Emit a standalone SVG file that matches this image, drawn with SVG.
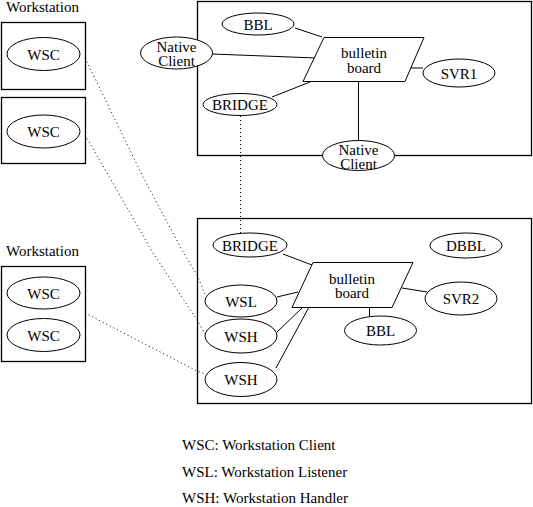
<svg xmlns="http://www.w3.org/2000/svg" width="533" height="507" viewBox="0 0 533 507">
<rect width="533" height="507" fill="#fff"/>
<g id="frames" fill="none" stroke="#000" stroke-width="1.3">
<rect x="1.5" y="22.5" width="84" height="67"/>
<rect x="1.5" y="97.5" width="84" height="66"/>
<rect x="1.5" y="266.5" width="84" height="95"/>
<rect x="197.5" y="1.5" width="334" height="154"/>
<rect x="197.5" y="218.5" width="334" height="185"/>
</g>
<text x="6" y="12" font-family="Liberation Serif" font-size="15">Workstation</text>
<text x="6" y="256" font-family="Liberation Serif" font-size="15">Workstation</text>
<g id="connectors" fill="none" stroke="#000" stroke-width="1">
<line x1="295" y1="28" x2="322" y2="37"/>
<line x1="212" y1="54" x2="316" y2="58"/>
<line x1="272" y1="97" x2="310" y2="82"/>
<line x1="410" y1="68" x2="423" y2="68"/>
<line x1="358.5" y1="81" x2="358.5" y2="140"/>
<line x1="283" y1="254" x2="312" y2="265"/>
<line x1="277" y1="297" x2="298" y2="292"/>
<line x1="277" y1="332" x2="303" y2="307"/>
<line x1="276" y1="368" x2="309" y2="307"/>
<line x1="402" y1="288" x2="427" y2="292"/>
<line x1="369.5" y1="307" x2="369.5" y2="316"/>
<g stroke-dasharray="1,3">
<line x1="240.5" y1="116" x2="240.5" y2="233"/>
<polyline points="85,58 143,177 182,250 197,275 205,294"/>
<polyline points="85,135 110,178 153,253 197,320 205,334"/>
<polyline points="85,313 195,370 205,374"/>
</g>
</g>
<g fill="#fff" stroke="#000" stroke-width="1">
<ellipse id="wsc1" cx="43.5" cy="54" rx="36.5" ry="16.5"/>
<ellipse id="wsc2" cx="43.5" cy="131.5" rx="36.5" ry="16.5"/>
<ellipse id="wsc3" cx="43.5" cy="293" rx="36.5" ry="16"/>
<ellipse id="wsc4" cx="43.5" cy="335" rx="36.5" ry="16.5"/>
<ellipse id="bbl1" cx="258" cy="24" rx="36" ry="11"/>
<ellipse id="native1" cx="176.5" cy="53" rx="36" ry="16"/>
<polygon id="bb1" points="324,37.5 424,37.5 405,81.5 303,81.5"/>
<ellipse id="svr1" cx="459" cy="73" rx="36" ry="14"/>
<ellipse id="bridge1" cx="240" cy="104.5" rx="37" ry="11"/>
<ellipse id="native2" cx="358.5" cy="155.5" rx="36" ry="15"/>
<ellipse id="bridge2" cx="250" cy="245" rx="37" ry="12"/>
<ellipse id="dbbl" cx="466" cy="245.5" rx="36" ry="12.5"/>
<polygon id="bb2" points="313,262.5 413,262.5 392,307.5 292,307.5"/>
<ellipse id="wsl" cx="241" cy="301" rx="36" ry="16"/>
<ellipse id="svr2" cx="461" cy="298.5" rx="36" ry="16.5"/>
<ellipse id="bbl2" cx="380.5" cy="330.5" rx="36" ry="14.5"/>
<ellipse id="wsh1" cx="241" cy="336" rx="36" ry="17"/>
<ellipse id="wsh2" cx="241" cy="379.5" rx="36" ry="17"/>
</g>
<text x="43.5" y="60" text-anchor="middle" font-family="Liberation Serif" font-size="15">WSC</text>
<text x="43.5" y="137" text-anchor="middle" font-family="Liberation Serif" font-size="15">WSC</text>
<text x="43.5" y="299" text-anchor="middle" font-family="Liberation Serif" font-size="15">WSC</text>
<text x="43.5" y="341" text-anchor="middle" font-family="Liberation Serif" font-size="15">WSC</text>
<text x="258" y="30" text-anchor="middle" font-family="Liberation Serif" font-size="15">BBL</text>
<text x="176.5" y="52" text-anchor="middle" font-family="Liberation Serif" font-size="15">Native</text>
<text x="176.5" y="66" text-anchor="middle" font-family="Liberation Serif" font-size="15">Client</text>
<text x="364" y="58" text-anchor="middle" font-family="Liberation Serif" font-size="15">bulletin</text>
<text x="364" y="73" text-anchor="middle" font-family="Liberation Serif" font-size="15">board</text>
<text x="459" y="79" text-anchor="middle" font-family="Liberation Serif" font-size="15">SVR1</text>
<text x="240" y="110" text-anchor="middle" font-family="Liberation Serif" font-size="15">BRIDGE</text>
<text x="358.5" y="155" text-anchor="middle" font-family="Liberation Serif" font-size="15">Native</text>
<text x="358.5" y="169" text-anchor="middle" font-family="Liberation Serif" font-size="15">Client</text>
<text x="250" y="251" text-anchor="middle" font-family="Liberation Serif" font-size="15">BRIDGE</text>
<text x="466" y="251" text-anchor="middle" font-family="Liberation Serif" font-size="15">DBBL</text>
<text x="352" y="284" text-anchor="middle" font-family="Liberation Serif" font-size="15">bulletin</text>
<text x="352" y="298" text-anchor="middle" font-family="Liberation Serif" font-size="15">board</text>
<text x="241" y="307" text-anchor="middle" font-family="Liberation Serif" font-size="15">WSL</text>
<text x="461" y="304" text-anchor="middle" font-family="Liberation Serif" font-size="15">SVR2</text>
<text x="380.5" y="336" text-anchor="middle" font-family="Liberation Serif" font-size="15">BBL</text>
<text x="241" y="342" text-anchor="middle" font-family="Liberation Serif" font-size="15">WSH</text>
<text x="241" y="385" text-anchor="middle" font-family="Liberation Serif" font-size="15">WSH</text>
<g id="legend" font-family="Liberation Serif" font-size="15">
<text x="182" y="450" font-family="Liberation Serif">WSC: Workstation Client</text>
<text x="182" y="477" font-family="Liberation Serif">WSL: Workstation Listener</text>
<text x="182" y="503" font-family="Liberation Serif">WSH: Workstation Handler</text>
</g>
</svg>
